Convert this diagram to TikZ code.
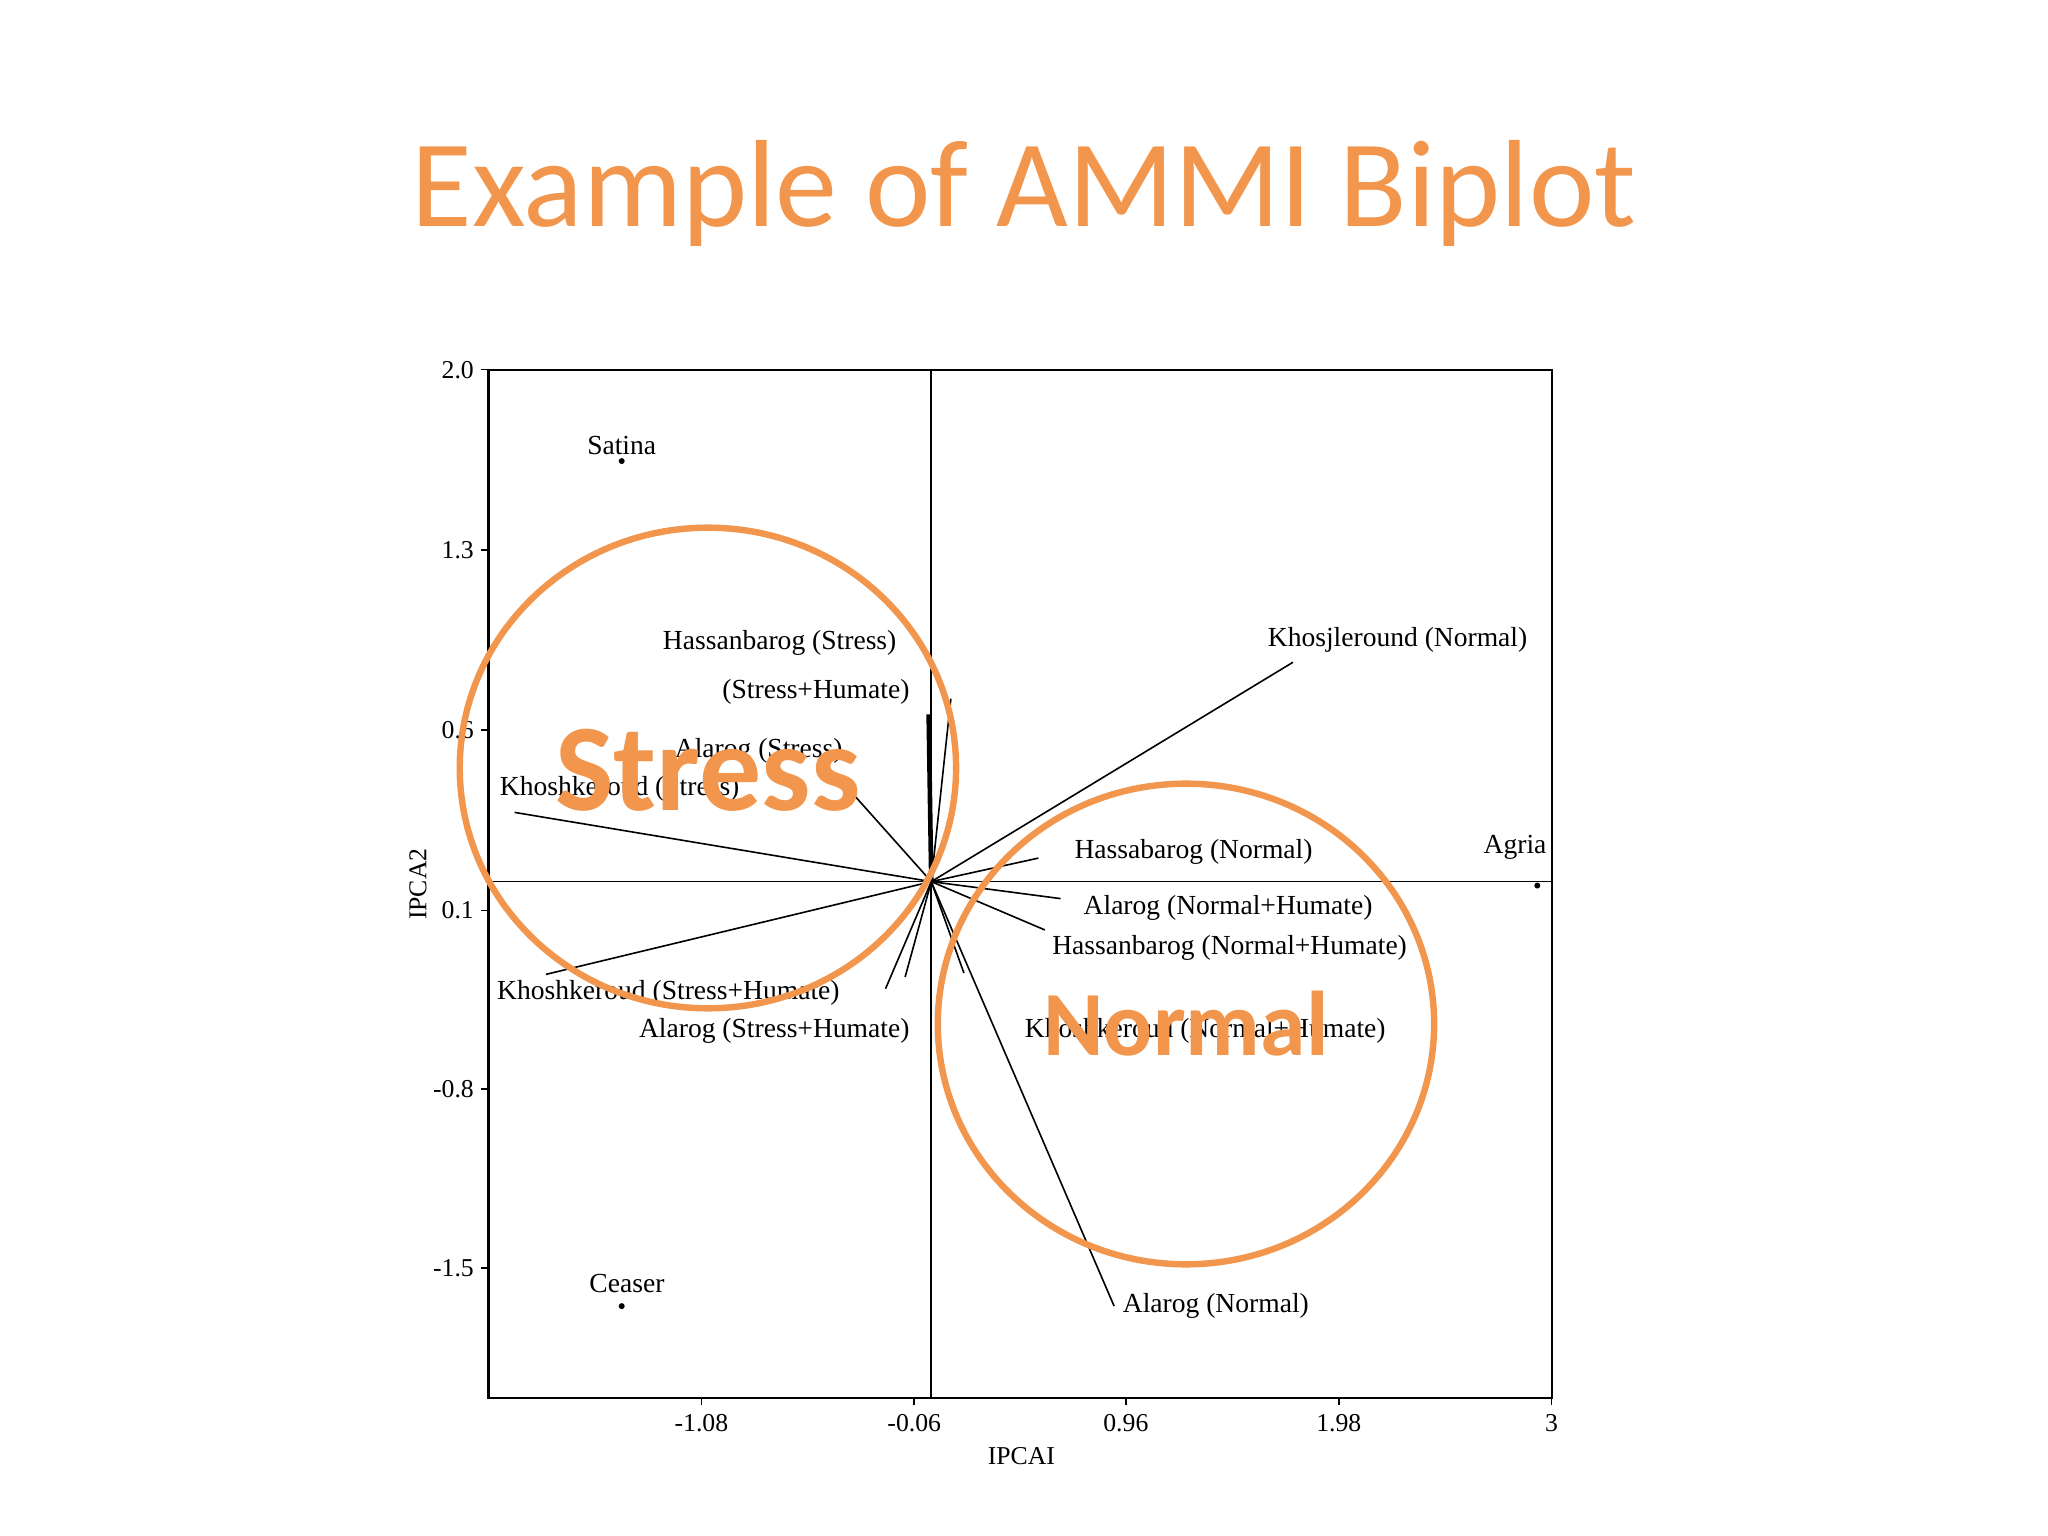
\documentclass[tikz,border=0pt]{standalone}
\usepackage{fontspec}
\setmainfont{Liberation Serif}
\newfontfamily\calib{Carlito}
\definecolor{org}{RGB}{241,150,76}
\begin{document}
\begin{tikzpicture}[x=0.01cm,y=-0.01cm,
  lbl/.style={font=\fontsize{6}{7}\selectfont,inner sep=0pt},
  tick/.style={font=\fontsize{5.6}{6}\selectfont,inner sep=1pt},
  ln/.style={line width=0.35pt},
  ring/.style={draw=org,line width=1.4pt}]
\useasboundingbox (0,0) rectangle (1568,1176);
\node[font=\calib\fontsize{27}{30}\selectfont,text=org] (title) at (784,148) {Example of AMMI Biplot};
\draw[line width=0.45pt] (374,283) rectangle (1188,1070);
\coordinate (o) at (713,675);
\draw[ln] (713,283) -- (713,1070);
\draw[ln] (374,675) -- (1188,675);
% y ticks
\foreach \y/\t in {283/2.0,421/1.3,559/0.6,697/0.1,834/-0.8,971/-1.5}{
  \draw[ln] (368,\y) -- (374,\y);
  \node[tick,anchor=east] at (367,\y) {\t};}
\foreach \x/\t in {537/-1.08,700/-0.06,862/0.96,1025/1.98,1188/3}{
  \draw[ln] (\x,1070) -- (\x,1076);
  \node[tick,anchor=north] at (\x,1079) {\t};}
\node[tick,rotate=90] (ya) at (320,677) {IPCA2};
\node[tick] (xa) at (782,1115) {IPCAI};
% vectors
\coordinate (va) at (990,507);
\coordinate (vb) at (795,657);
\coordinate (vc) at (812,688);
\coordinate (vd) at (800,712);
\coordinate (ve) at (853,1000);
\coordinate (vf) at (678,757);
\coordinate (vg) at (693,748);
\coordinate (vh) at (418,746);
\coordinate (vi) at (394,622);
\coordinate (vj) at (655,610);
\coordinate (vk) at (711,547);
\coordinate (vl) at (728,535);
\coordinate (vm) at (738,745);
\draw[ln] (o) -- (va);
\draw[ln] (o) -- (vb);
\draw[ln] (o) -- (vc);
\draw[ln] (o) -- (vd);
\draw[ln] (o) -- (ve);
\draw[ln] (o) -- (vf);
\draw[ln] (o) -- (vg);
\draw[ln] (o) -- (vh);
\draw[ln] (o) -- (vi);
\draw[ln] (o) -- (vj);
\draw[line width=1pt] (o) -- (vk);
\draw[ln] (o) -- (vl);
\draw[ln] (o) -- (vm);
\node[lbl,anchor=west] (la) at (970,490) {Khosjleround (Normal)};
\node[lbl,anchor=west] (lb) at (822,652) {Hassabarog (Normal)};
\node[lbl,anchor=west] (lc) at (829,695) {Alarog (Normal+Humate)};
\node[lbl,anchor=west] (ld) at (805,726) {Hassanbarog (Normal+Humate)};
\node[lbl,anchor=west] (lm) at (784,789) {Khoshkeroud (Normal+Humate)};
\node[lbl,anchor=west] (le) at (859,1000) {Alarog (Normal)};
\node[lbl,anchor=east] (lf) at (697,789) {Alarog (Stress+Humate)};
\node[lbl,anchor=west] (lh) at (380,760) {Khoshkeroud (Stress+Humate)};
\node[lbl,anchor=west] (li) at (382,604) {Khoshkeroud (Stress)};
\node[lbl,anchor=west] (lj) at (516,575) {Alarog (Stress)};
\node[lbl,anchor=east] (lk) at (687,492) {Hassanbarog (Stress)};
\node[lbl,anchor=east] (ll) at (697,530) {(Stress+Humate)};
% points
\fill (476,353) circle (2.3) coordinate (sp);
\node[lbl] (sat) at (476,341) {Satina};
\fill (476,1000) circle (2.3) coordinate (cp);
\node[lbl] (cea) at (480,983) {Ceaser};
\fill (1177,678) circle (2.3) coordinate (ap);
\node[lbl] (agr) at (1160,649) {Agria};
% circles
\draw[ring] (542,588) ellipse (190 and 184);
\draw[ring] (908,784) ellipse (190 and 184);
\node[font=\calib\bfseries\fontsize{27}{29}\selectfont,text=org] (st) at (542,590) {Stress};
\node[font=\calib\bfseries\fontsize{20}{23}\selectfont,text=org] (no) at (908,784) {Normal};
\end{tikzpicture}
\end{document}
